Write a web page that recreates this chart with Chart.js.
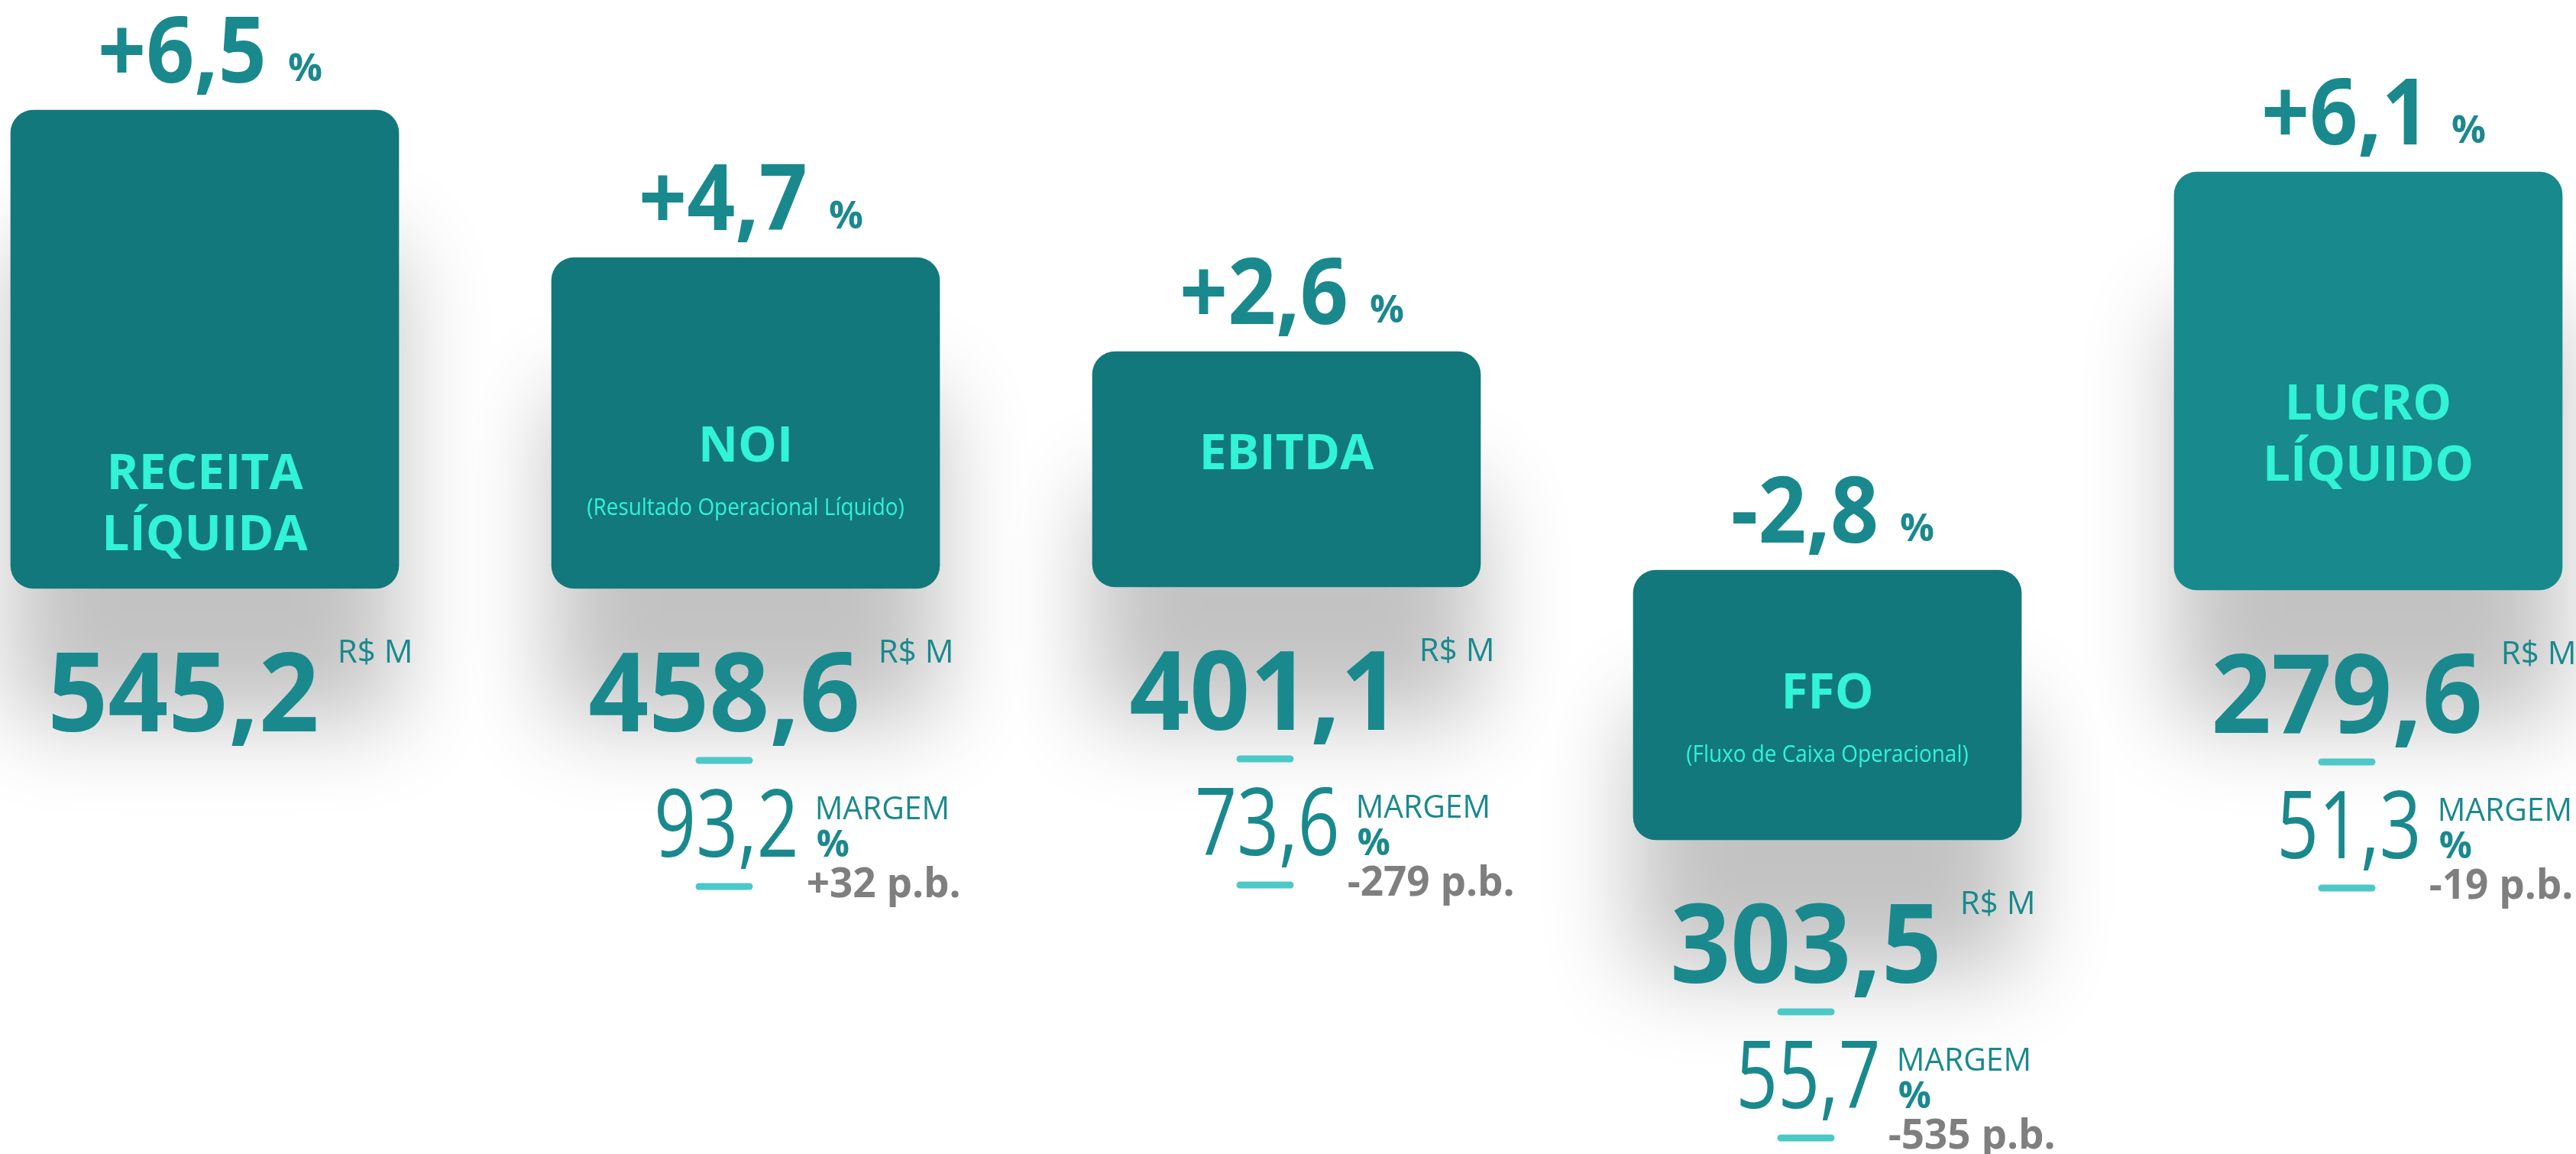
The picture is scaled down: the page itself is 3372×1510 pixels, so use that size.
<!DOCTYPE html>
<html>
<head>
<meta charset="utf-8">
<script src="https://cdn.jsdelivr.net/npm/chart.js@4"></script>
<style>
  html, body { margin: 0; padding: 0; background: #ffffff; overflow: hidden; }
  #wrap { width: 3372px; height: 1510px; }
</style>
</head>
<body>
<div id="wrap"><canvas id="c" width="3372" height="1510"></canvas></div>
<script>
// ---------------- DATA ----------------
const categories = ['RECEITA LÍQUIDA', 'NOI', 'EBITDA', 'FFO', 'LUCRO LÍQUIDO'];
const titleLines = [['RECEITA', 'LÍQUIDA'], ['NOI'], ['EBITDA'], ['FFO'], ['LUCRO', 'LÍQUIDO']];
const subTitles = [null, '(Resultado Operacional Líquido)', null, '(Fluxo de Caixa Operacional)', null];
const valuesRSM = [545.2, 458.6, 401.1, 303.5, 279.6];          // R$ M
const growthPct = [6.5, 4.7, 2.6, -2.8, 6.1];                    // %
const marginPct = [null, 93.2, 73.6, 55.7, 51.3];                // MARGEM %
const marginDeltaBp = [null, 32, -279, -535, -19];               // p.b.
const boxTop = [144, 337, 460, 746, 225];     // bar extents on the layout scale (0 = top)
const boxBottom = [770, 770, 768, 1099, 772];
const titleBaseline = [640, 604, 614, 927, 549];

// ---------------- STYLE ----------------
const FONT = "'Open Sans', 'Noto Sans', sans-serif";
const TEAL_TEXT = '#1A898D';
const BOX_COLORS = ['#13787B', '#13787B', '#13787B', '#13787B', '#18898C'];
const CYAN = '#31F3D6';
const DASH = '#4CC8C8';
const GRAY = '#7F7F7F';

const fmt = v => v.toFixed(1).replace('.', ',');
const signed = v => (v > 0 ? '+' : '-') + fmt(Math.abs(v));
const signedInt = v => (v > 0 ? '+' : '-') + Math.abs(v);

function drawText(ctx, text, x, y, font, color, align, sx) {
  ctx.save();
  ctx.font = font;
  ctx.fillStyle = color;
  ctx.textAlign = 'left';
  ctx.textBaseline = 'alphabetic';
  const w = ctx.measureText(text).width * sx;
  const left = align === 'center' ? x - w / 2 : (align === 'right' ? x - w : x);
  ctx.translate(left, y);
  ctx.scale(sx, 1);
  ctx.fillText(text, 0, 0);
  ctx.restore();
  return { left: left, right: left + w, width: w };
}

function measure(ctx, text, font, sx) {
  ctx.save();
  ctx.font = font;
  const w = ctx.measureText(text).width * sx;
  ctx.restore();
  return w;
}

function dash(ctx, cx, cy) {
  ctx.save();
  ctx.strokeStyle = DASH;
  ctx.lineWidth = 9;
  ctx.lineCap = 'round';
  ctx.beginPath();
  ctx.moveTo(cx - 33, cy);
  ctx.lineTo(cx + 33, cy);
  ctx.stroke();
  ctx.restore();
}

const shadowPlugin = {
  id: 'boxShadow',
  beforeDatasetsDraw(chart) {
    const ctx = chart.ctx;
    ctx.save();
    ctx.shadowColor = 'rgba(0,0,0,0.24)';
    ctx.shadowBlur = 120;
    ctx.shadowOffsetX = 0;
    ctx.shadowOffsetY = 175;
  },
  afterDatasetsDraw(chart) {
    chart.ctx.restore();
  }
};

const textPlugin = {
  id: 'boxTexts',
  afterDatasetsDraw(chart) {
    const ctx = chart.ctx;
    const meta = chart.getDatasetMeta(0);
    const yScale = chart.scales.y;
    meta.data.forEach((bar, i) => {
      const cx = bar.x;
      const top = Math.min(bar.y, bar.base);
      const bottom = Math.max(bar.y, bar.base);

      // growth % above the box
      const gFont = `700 120px ${FONT}`;
      const pFont = `700 50px ${FONT}`;
      const gTxt = signed(growthPct[i]);
      const gW = measure(ctx, gTxt, gFont, 0.92);
      const pW = measure(ctx, '%', pFont, 1);
      const groupW = gW + 28 + pW;
      const gLeft = cx + 7 - groupW / 2;
      drawText(ctx, gTxt, gLeft, top - 36, gFont, TEAL_TEXT, 'left', 0.92);
      drawText(ctx, '%', gLeft + gW + 28, top - 38, pFont, TEAL_TEXT, 'left', 1);

      // title inside the box
      const ty = yScale.getPixelForValue(titleBaseline[i]);
      titleLines[i].forEach((line, k) => {
        drawText(ctx, line, cx, ty + k * 80, `700 64px ${FONT}`, CYAN, 'center', 1);
      });
      if (subTitles[i]) {
        drawText(ctx, subTitles[i], cx, ty + 70, `400 31px ${FONT}`, CYAN, 'center', 0.9);
      }

      // value below the box
      const vCx = cx - 28;
      const v = drawText(ctx, fmt(valuesRSM[i]), vCx, bottom + 187, `700 144px ${FONT}`, TEAL_TEXT, 'center', 0.96);
      drawText(ctx, 'R$ M', v.right + 24, bottom + 97, `400 42px ${FONT}`, TEAL_TEXT, 'left', 1);

      if (marginPct[i] !== null) {
        dash(ctx, vCx, bottom + 225);
        const m = drawText(ctx, fmt(marginPct[i]), vCx + 3, bottom + 351, `400 123px ${FONT}`, TEAL_TEXT, 'center', 0.78);
        drawText(ctx, 'MARGEM', m.right + 21, bottom + 302, `400 42px ${FONT}`, TEAL_TEXT, 'left', 0.97);
        drawText(ctx, '%', m.right + 23, bottom + 351, `700 48px ${FONT}`, TEAL_TEXT, 'left', 1);
        drawText(ctx, signedInt(marginDeltaBp[i]) + ' p.b.', m.right + 10, bottom + 404, `700 53px ${FONT}`, GRAY, 'left', 1);
        dash(ctx, vCx, bottom + 390);
      }
    });
  }
};

const ranges = boxTop.map((t, i) => [t, boxBottom[i]]);

new Chart(document.getElementById('c'), {
  type: 'bar',
  data: {
    labels: categories,
    datasets: [{
      data: ranges,
      backgroundColor: BOX_COLORS,
      borderWidth: 0,
      borderSkipped: false,
      borderRadius: { topLeft: 30, topRight: 30, bottomLeft: 30, bottomRight: 30 },
      barThickness: 508,
      clip: false
    }]
  },
  options: {
    responsive: false,
    animation: false,
    devicePixelRatio: 1,
    layout: { padding: { left: 268, right: 272, top: 0, bottom: 0 } },
    plugins: { legend: { display: false }, tooltip: { enabled: false } },
    scales: {
      x: { type: 'category', display: false, offset: false, grid: { display: false } },
      y: { type: 'linear', display: false, min: 0, max: 1510, reverse: true }
    }
  },
  plugins: [shadowPlugin, textPlugin]
});
</script>
</body>
</html>
